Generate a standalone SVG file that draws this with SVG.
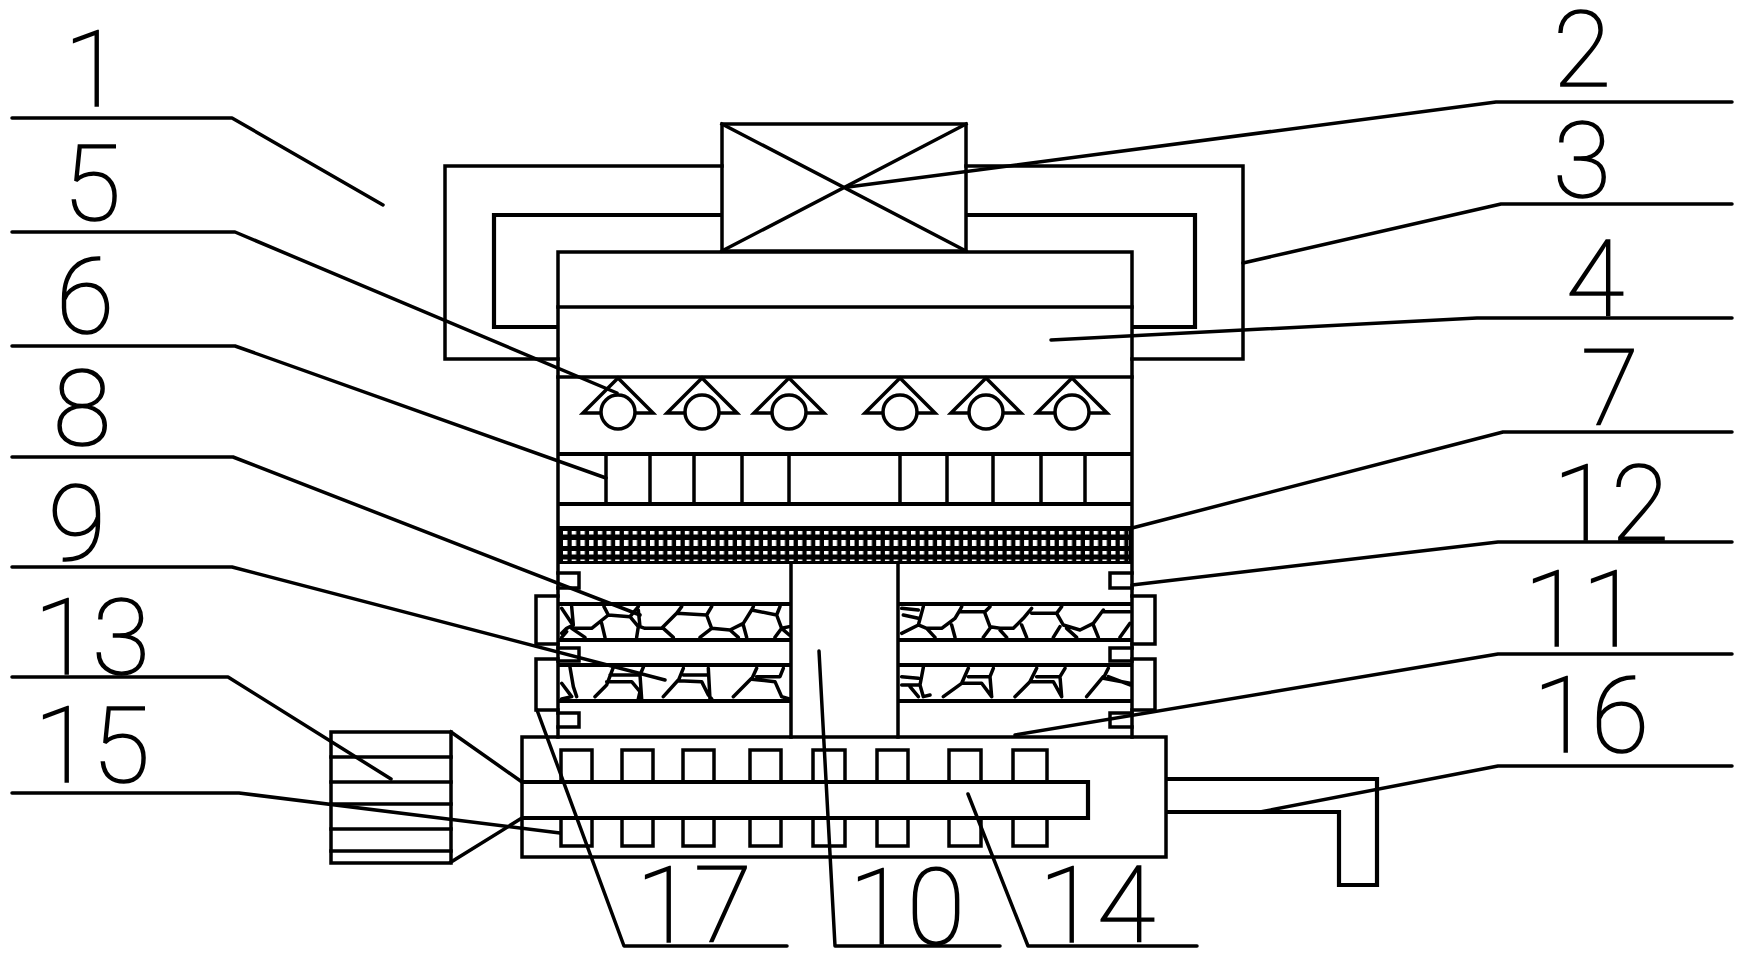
<svg xmlns="http://www.w3.org/2000/svg" width="1746" height="962" viewBox="0 0 1746 962">
<defs>
<style>
.s{fill:none;stroke:#000;stroke-width:3.5;stroke-linejoin:miter;stroke-linecap:square}
.t{fill:none;stroke:#000;stroke-width:4.2}
.w{fill:#fff;stroke:#000;stroke-width:3.5}
.n{fill:none;stroke:#000;stroke-width:10.5;stroke-linejoin:round;stroke-linecap:round}
.l{fill:none;stroke:#000;stroke-width:3.5;stroke-linecap:round;stroke-linejoin:round}
.d{font-family:"Roboto","Liberation Sans",sans-serif;font-weight:100;font-size:106px;fill:#000;stroke:#000;stroke-width:1.6;text-anchor:middle}
</style>
<pattern id="mesh" x="563" y="526" width="8.7" height="38" patternUnits="userSpaceOnUse">
<rect x="0" y="5" width="4.4" height="3.5" fill="#fff"/>
<rect x="0" y="14" width="4.4" height="6" fill="#fff"/>
<rect x="0" y="25" width="4.4" height="3.5" fill="#fff"/>
<rect x="0" y="33.5" width="4.4" height="1.5" fill="#fff"/>
</pattern>
<g id="nozzle">
<path class="s" d="M0,378 L-35,413 H35 Z"/>
<ellipse class="w" cx="0" cy="412" rx="17" ry="17"/>
</g>
</defs>
<rect width="1746" height="962" fill="#fff"/>

<g id="duct">
<path class="s" d="M722,166 H445 V359 H558"/>
<path class="s" d="M966,166 H1243 V359 H1132"/>
<path class="t" d="M722,215 H494 V327 H558"/>
<path class="t" d="M966,215 H1195 V327 H1132"/>
</g>
<g id="fan">
<rect class="s" x="722" y="124" width="244" height="127"/>
<path class="s" d="M722,124 L966,251 M966,124 L722,251"/>
</g>
<g id="body">
<path class="s" d="M558,252 H1132 M558,252 V737 M1132,252 V737"/>
<path class="s" d="M558,307 H1132 M558,377 H1132"/>
</g>
<g id="nozzles">
<use href="#nozzle" x="618"/><use href="#nozzle" x="702"/><use href="#nozzle" x="789"/>
<use href="#nozzle" x="900"/><use href="#nozzle" x="986"/><use href="#nozzle" x="1072"/>
</g>
<g id="grille">
<path class="t" d="M558,454 H1132 M558,504 H1132"/>
<path class="s" d="M606,454 V504 M650,454 V504 M694,454 V504 M742,454 V504 M789,454 V504 M900,454 V504 M947,454 V504 M993,454 V504 M1041,454 V504 M1085,454 V504"/>
</g>
<g id="mesh-screen">
<rect x="558" y="526" width="574" height="38" fill="#000"/>
<rect x="561" y="526" width="568" height="38" fill="url(#mesh)"/>
</g>
<g id="column">
<path class="s" d="M791,564 V737 M898,564 V737"/>
</g>
<g id="filter-trays">
<path class="t" d="M558,604 H791 M898,604 H1132 M558,640 H791 M898,640 H1132 M558,665 H791 M898,665 H1132 M558,701 H791 M898,701 H1132"/>
<g transform="translate(530,560) scale(.3333)">
<path class="n" d="M125,140 L130,195 L110,205 L95,220 M95,145 L125,190 M125,205 H185 L235,165 L222,140 M235,165 L300,170 L325,140 M300,170 L325,200 L320,232 M215,190 L225,232 M325,150 L330,200 L345,205 H395 L440,160 L455,140 M440,160 L530,165 L545,140 M530,165 L545,205 L600,210 L640,190 L665,150 L670,140 M665,150 L740,165 L750,140 M740,165 L755,205 L778,200 M125,205 L165,232 M400,205 L430,232 M545,205 L510,232 M600,210 L625,232 M640,195 L650,232 M755,205 L735,232 M755,205 L778,225 M110,215 L95,232"/>
<path class="n" d="M120,322 L130,380 L140,410 M95,370 L125,410 L95,417 M230,375 L195,410 M250,322 L230,375 M230,365 H305 L330,395 L325,417 M240,345 H330 L340,322 M330,345 L335,417 M445,360 L400,410 M460,325 L445,362 L515,365 L535,405 L545,417 M460,345 H530 M535,325 L540,417 M665,355 L610,410 M680,325 L665,358 L735,365 L755,410 M680,350 H750 L760,325 M755,410 L778,417"/>
</g>
<g transform="translate(890,560) scale(.3333)">
<path class="n" d="M35,145 L85,150 M40,165 L85,175 M100,140 L85,195 L35,220 M85,195 L110,205 H155 L195,175 L210,150 L215,140 M210,155 H285 L300,140 M285,160 L300,200 L330,205 H370 L400,175 L425,145 M425,160 H500 L515,140 M500,160 L520,195 L570,210 L610,190 L640,150 M640,155 H720 M720,190 L690,232 M110,205 L135,232 M185,195 L195,232 M300,205 L280,232 M330,210 L350,232 M395,195 L410,232 M510,200 L490,232 M530,205 L560,232 M610,195 L625,232"/>
<path class="n" d="M100,322 L90,375 L100,410 M35,375 H85 M35,350 L85,355 M60,380 L85,410 M120,405 L100,410 M215,370 L160,410 M235,325 L215,370 H275 L305,410 M235,350 H300 L310,325 M300,350 L305,410 M420,365 L375,410 M440,325 L420,365 H490 L515,410 M440,350 H510 L525,325 M510,350 L515,410 M640,350 L590,410 M655,325 L640,355 L720,370 M655,350 L720,375"/>
</g>
</g>
<g id="side-boxes">
<path class="s" d="M558,596 H536 V644 H558 M558,659 H536 V710 H558"/>
<path class="s" d="M1132,596 H1155 V644 H1132 M1132,659 H1155 V710 H1132"/>
<path class="s" d="M558,573 H579 V588 H558 M558,648 H579 V661 H558 M558,713 H579 V727 H558"/>
<path class="s" d="M1132,573 H1110 V588 H1132 M1132,648 H1110 V661 H1132 M1132,713 H1110 V727 H1132"/>
</g>
<g id="base">
<rect class="s" x="522" y="737" width="644" height="120"/>
<path class="t" d="M522,782 H1088 V818 H522"/>
<path class="s" d="M561,782 V750 H592 V782 M622,782 V750 H653 V782 M683,782 V750 H714 V782 M750,782 V750 H781 V782 M813,782 V750 H845 V782 M877,782 V750 H908 V782 M949,782 V750 H981 V782 M1013,782 V750 H1047 V782"/>
<path class="s" d="M561,818 V846 H592 V818 M622,818 V846 H653 V818 M683,818 V846 H714 V818 M750,818 V846 H781 V818 M813,818 V846 H845 V818 M877,818 V846 H908 V818 M949,818 V846 H981 V818 M1013,818 V846 H1047 V818"/>
</g>
<g id="motor">
<rect class="s" x="331" y="732" width="120" height="131"/>
<path class="s" d="M331,757 H451 M331,782 H451 M331,804 H451 M331,829 H451 M331,851 H451"/>
<path class="s" d="M451,732 L522,782 M451,862 L522,818"/>
</g>
<g id="outlet-pipe">
<path class="t" d="M1166,779 H1377 V885 H1339 V812 H1166"/>
</g>

<g id="connectors">
<polyline class="l" points="12,118 232,118 383,205"/>
<polyline class="l" points="12,232 235,232 617,393"/>
<polyline class="l" points="12,346 235,346 606,478"/>
<polyline class="l" points="12,457 233,457 640,615"/>
<polyline class="l" points="12,567 232,567 665,680"/>
<polyline class="l" points="12,677 228,677 391,779"/>
<polyline class="l" points="12,793 239,793 560,833"/>
<polyline class="l" points="1732,102 1496,102 848,187"/>
<polyline class="l" points="1732,204 1501,204 1243,263"/>
<polyline class="l" points="1732,318 1477,318 1051,340"/>
<polyline class="l" points="1732,432 1503,432 1132,528"/>
<polyline class="l" points="1732,542 1498,542 1132,585"/>
<polyline class="l" points="1732,654 1498,654 1015,735"/>
<polyline class="l" points="1732,766 1498,766 1260,812"/>
<polyline class="l" points="787,946 624,946 537,710"/>
<polyline class="l" points="1000,946 835,946 819,651"/>
<polyline class="l" points="1197,946 1028,946 968,794"/>
</g>

<g id="labels">
<text class="d" x="93" y="106">1</text>
<text class="d" x="92" y="220">5</text>
<text class="d" x="85" y="333">6</text>
<text class="d" x="82" y="445">8</text>
<text class="d" x="77" y="560">9</text>
<text class="d" x="92" y="674">13</text>
<text class="d" x="92" y="782">15</text>
<text class="d" x="1582" y="86">2</text>
<text class="d" x="1582" y="197">3</text>
<text class="d" x="1595" y="316">4</text>
<text class="d" x="1610" y="425">7</text>
<text class="d" x="1611" y="540">12</text>
<text class="d" x="1582" y="646">11</text>
<text class="d" x="1591" y="752">16</text>
<text class="d" x="694" y="942">17</text>
<text class="d" x="907" y="944">10</text>
<text class="d" x="1097" y="942">14</text>
</g>
</svg>
